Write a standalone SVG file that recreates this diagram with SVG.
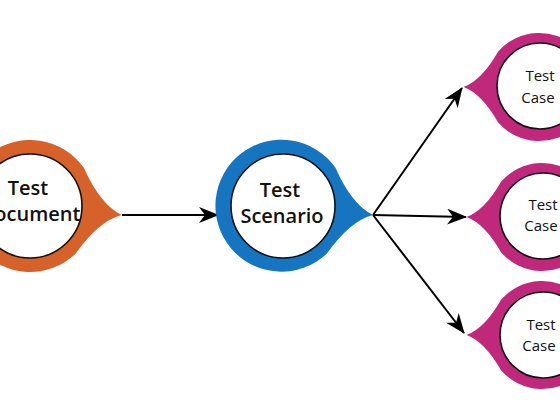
<svg xmlns="http://www.w3.org/2000/svg" width="560" height="420" viewBox="0 0 560 420">
<defs>
<style>
.inner{fill:#fff;stroke:#111;stroke-width:1.6}
.big{font-family:"Open Sans","Liberation Sans",sans-serif;font-size:20px;font-weight:600;fill:#111;text-anchor:middle}
.small{font-family:"Open Sans","Liberation Sans",sans-serif;font-size:15px;font-weight:400;fill:#111;text-anchor:middle}
.conn{stroke:#000;stroke-width:2;fill:none;marker-end:url(#ah)}
</style>
<path id="drop" d="M92 0 Q70 -8 50 -43 A66 66 0 1 0 50 43 Q70 8 92 0 Z"/>
<marker id="ah" viewBox="0 0 20 16" refX="19" refY="8" markerWidth="20" markerHeight="16" markerUnits="userSpaceOnUse" orient="auto">
<path d="M0 0 L20 8 L0 16 L6 8 Z" fill="#000"/>
</marker>
</defs>
<rect width="560" height="420" fill="#fff"/>
<g id="connectors">
<line class="conn" x1="122" y1="215" x2="218" y2="215"/>
<line class="conn" x1="373" y1="215" x2="462" y2="88"/>
<line class="conn" x1="373" y1="215" x2="466" y2="217"/>
<line class="conn" x1="373" y1="215" x2="464" y2="333"/>
</g>
<g id="test-document">
<use href="#drop" fill="#D6622A" transform="translate(30 206) rotate(5.6)"/>
<circle class="inner" cx="30" cy="206" r="52"/>
<text class="big" x="28" y="195">Test</text>
<text class="big" x="30" y="221">Document</text>
</g>
<g id="test-scenario">
<use href="#drop" fill="#1675C1" transform="translate(281.5 205.7) rotate(5.8)"/>
<circle class="inner" cx="283" cy="206" r="52"/>
<text class="big" x="280" y="197">Test</text>
<text class="big" x="282" y="223">Scenario</text>
</g>
<g id="test-case-1">
<use href="#drop" fill="#C0297B" transform="translate(539 87) rotate(180) scale(0.82)"/>
<circle class="inner" cx="540" cy="86" r="43"/>
<text class="small" x="540" y="81">Test</text>
<text class="small" x="538" y="103">Case</text>
</g>
<g id="test-case-2">
<use href="#drop" fill="#C0297B" transform="translate(542 217) rotate(180) scale(0.82)"/>
<circle class="inner" cx="543" cy="216" r="43"/>
<text class="small" x="543" y="210">Test</text>
<text class="small" x="541" y="231">Case</text>
</g>
<g id="test-case-3">
<use href="#drop" fill="#C0297B" transform="translate(542 335) rotate(180) scale(0.82)"/>
<circle class="inner" cx="543" cy="335" r="43"/>
<text class="small" x="541" y="330">Test</text>
<text class="small" x="539" y="351">Case</text>
</g>
</svg>
